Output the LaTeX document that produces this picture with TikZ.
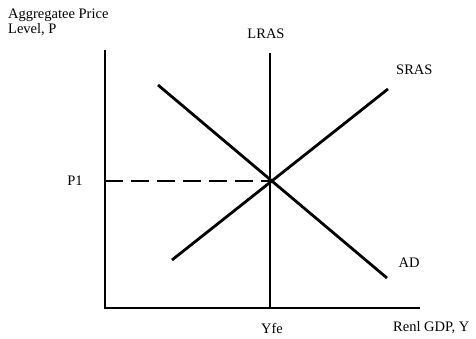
\documentclass[tikz,border=0pt]{standalone}
\usepackage{fontspec}
\setmainfont{Liberation Serif}
\begin{document}
\begin{tikzpicture}[x=1pt,y=-1pt,
  lbl/.style={inner sep=0pt,font=\fontsize{14.5}{15}\selectfont},
  ln/.style={line width=2.8pt,black},
  dsh/.style={line width=2.8pt,black,dash pattern=on 18pt off 8pt}]
\useasboundingbox (0,0) rectangle (476,339);
% coordinates
\coordinate (ytop) at (105,50);
\coordinate (org) at (105,308);
\coordinate (xend) at (420,308);
\coordinate (ltop) at (270,53);
\coordinate (lbot) at (270,308);
\coordinate (s1) at (172,260);
\coordinate (s2) at (388,89);
\coordinate (a1) at (158,85);
\coordinate (a2) at (387,278);
\coordinate (eq) at (270,181);
\coordinate (p1y) at (105,181);
% axes
\draw[ln] (ytop) -- (org) -- (xend);
% curves
\draw[ln] (ltop) -- (lbot);
\draw[ln] (s1) -- (s2);
\draw[ln] (a1) -- (a2);
\draw[dsh] (p1y) -- (eq);
% labels
\node[lbl,anchor=west,align=left] (title) at (8,22) {Aggregatee Price\\Level, P};
\node[lbl] (lras) at (266,34) {LRAS};
\node[lbl,anchor=west] (sras) at (396,70) {SRAS};
\node[lbl] (p1) at (75,181) {P1};
\node[lbl] (ad) at (409,263) {AD};
\node[lbl] (yfe) at (272,328) {Yfe};
\node[lbl,anchor=west] (gdp) at (393,328) {Renl GDP, Y};
\end{tikzpicture}
\end{document}
